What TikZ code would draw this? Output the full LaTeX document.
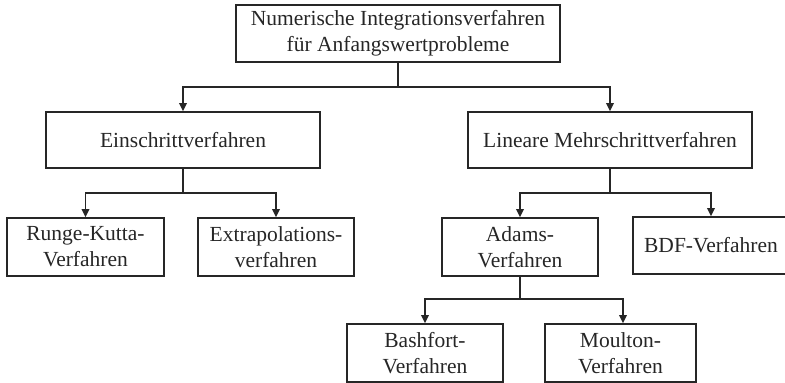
\documentclass[tikz,border=0pt]{standalone}
\usepackage{fontspec}
\setmainfont{Liberation Serif}
\usetikzlibrary{arrows.meta}
\begin{document}
\begin{tikzpicture}[x=1pt,y=-1pt,
  box/.style={draw=black!85, line width=1.7pt, inner sep=0pt, align=center,
    text=black!85, font=\fontsize{21.5}{26}\selectfont},
  arr/.style={draw=black!85, line width=1.7pt,
    -{Triangle[length=8pt,width=7.5pt]}},
  link/.style={draw=black!85, line width=1.7pt}]
\useasboundingbox (0,0) rectangle (785,383);

% root
\node[box, minimum width=324pt, minimum height=57pt] (root) at (398,33.5)
  {Numerische Integrationsverfahren\\für Anfangswertprobleme};

% first level
\node[box, minimum width=274pt, minimum height=56pt] (ein) at (183,140) {Einschrittverfahren};
\node[box, minimum width=284pt, minimum height=56pt] (lin) at (610,140) {Lineare Mehrschrittverfahren};

% second level
\node[box, minimum width=157pt, minimum height=58pt] (rk) at (85.5,247) {Runge-Kutta-\\Verfahren};
\node[box, minimum width=156pt, minimum height=58pt] (ex) at (276,247) {Extrapolations-\\verfahren};
\node[box, minimum width=156pt, minimum height=58pt] (ad) at (520,247) {Adams-\\Verfahren};
\node[box, minimum width=156pt, minimum height=57pt] (bdf) at (711,245.5) {BDF-Verfahren};

% third level
\node[box, minimum width=156pt, minimum height=58pt] (ba) at (425,353) {Bashfort-\\Verfahren};
\node[box, minimum width=151pt, minimum height=58pt] (mo) at (620.5,353) {Moulton-\\Verfahren};

% branch points
\coordinate (j0) at (398,87);
\coordinate (j1) at (183,193);
\coordinate (j2) at (610,193);
\coordinate (j3) at (520,299);

% connectors
\draw[link] (root.south) -- (j0);
\draw[arr] (j0) -| (ein.north);
\draw[arr] (j0) -| (lin.north);

\draw[link] (ein.south) -- (j1);
\draw[arr] (j1) -| (rk.north);
\draw[arr] (j1) -| (ex.north);

\draw[link] (lin.south) -- (j2);
\draw[arr] (j2) -| (ad.north);
\draw[arr] (j2) -| (bdf.north);

\draw[link] (ad.south) -- (j3);
\draw[arr] (j3) -| (ba.north);
\draw[arr] (j3) -| ([xshift=2.5pt]mo.north);
\end{tikzpicture}
\end{document}
